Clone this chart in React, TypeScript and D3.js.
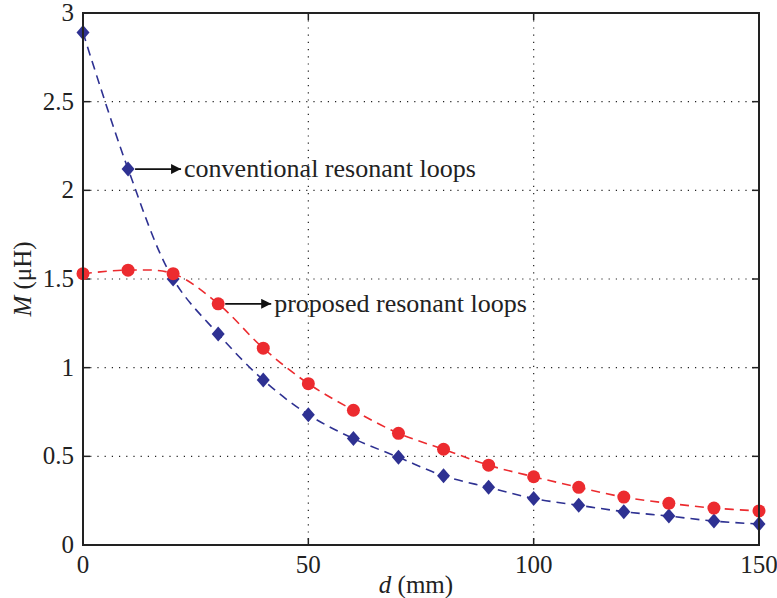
import * as d3 from "d3";
import { useEffect, useRef } from "react";

const distances = [0, 10, 20, 30, 40, 50, 60, 70, 80, 90, 100, 110, 120, 130, 140, 150];
const conventional = [2.89, 2.12, 1.5, 1.19, 0.93, 0.735, 0.6, 0.495, 0.39, 0.325, 0.262, 0.224, 0.188, 0.163, 0.135, 0.118];
const proposed = [1.53, 1.55, 1.53, 1.36, 1.11, 0.91, 0.76, 0.63, 0.54, 0.45, 0.385, 0.325, 0.27, 0.235, 0.208, 0.192];
const xTicks = [0, 50, 100, 150];
const yTicks = [0, 0.5, 1, 1.5, 2, 2.5, 3];

const W = 777;
const H = 598;
const margin = { top: 13, right: 18, bottom: 53, left: 83 };
const FONT = "'Liberation Serif', serif";
const BLUE = "#2e3192";
const RED = "#ec2b2f";

const App = () => {
  const ref = useRef<SVGSVGElement>(null);

  useEffect(() => {
    const svg = d3.select(ref.current);
    svg.selectAll("*").remove();

    const iw = W - margin.left - margin.right;
    const ih = H - margin.top - margin.bottom;

    const x = d3.scaleLinear().domain([0, 150]).range([0, iw]);
    const y = d3.scaleLinear().domain([0, 3]).range([ih, 0]);

    const defs = svg.append("defs");
    defs.append("marker")
      .attr("id", "arrow")
      .attr("viewBox", "0 0 10 10")
      .attr("refX", 10)
      .attr("refY", 5)
      .attr("markerWidth", 12)
      .attr("markerHeight", 10)
      .attr("markerUnits", "userSpaceOnUse")
      .attr("orient", "auto")
      .append("path")
      .attr("d", "M0,0 L10,5 L0,10 Z")
      .attr("fill", "#111");

    const g = svg.append("g")
      .attr("transform", `translate(${margin.left},${margin.top})`);

    // grid
    g.selectAll(".gx")
      .data(xTicks.slice(1, -1))
      .enter()
      .append("line")
      .attr("x1", d => x(d))
      .attr("x2", d => x(d))
      .attr("y1", 0)
      .attr("y2", ih)
      .attr("stroke", "#222")
      .attr("stroke-width", 1.2)
      .attr("stroke-dasharray", "1.2,6");

    g.selectAll(".gy")
      .data(yTicks.slice(1, -1))
      .enter()
      .append("line")
      .attr("x1", 0)
      .attr("x2", iw)
      .attr("y1", d => y(d))
      .attr("y2", d => y(d))
      .attr("stroke", "#222")
      .attr("stroke-width", 1.2)
      .attr("stroke-dasharray", "1.2,6");

    // inward ticks on all sides
    const tl = 7;
    xTicks.forEach(t => {
      g.append("line").attr("x1", x(t)).attr("x2", x(t)).attr("y1", ih).attr("y2", ih - tl).attr("stroke", "#222").attr("stroke-width", 1.5);
      g.append("line").attr("x1", x(t)).attr("x2", x(t)).attr("y1", 0).attr("y2", tl).attr("stroke", "#222").attr("stroke-width", 1.5);
    });
    yTicks.forEach(t => {
      g.append("line").attr("x1", 0).attr("x2", tl).attr("y1", y(t)).attr("y2", y(t)).attr("stroke", "#222").attr("stroke-width", 1.5);
      g.append("line").attr("x1", iw).attr("x2", iw - tl).attr("y1", y(t)).attr("y2", y(t)).attr("stroke", "#222").attr("stroke-width", 1.5);
    });

    // tick labels
    g.selectAll(".xl")
      .data(xTicks)
      .enter()
      .append("text")
      .attr("x", d => x(d))
      .attr("y", ih + 28)
      .attr("text-anchor", "middle")
      .attr("font-family", FONT)
      .attr("font-size", 25)
      .attr("fill", "#222")
      .text(d => d);

    g.selectAll(".yl")
      .data(yTicks)
      .enter()
      .append("text")
      .attr("x", -9)
      .attr("y", d => y(d) + 8)
      .attr("text-anchor", "end")
      .attr("font-family", FONT)
      .attr("font-size", 25)
      .attr("fill", "#222")
      .text(d => d);

    // axis titles
    const xt = g.append("text")
      .attr("x", iw / 2 - 5)
      .attr("y", ih + 48)
      .attr("text-anchor", "middle")
      .attr("font-family", FONT)
      .attr("font-size", 25)
      .attr("fill", "#222");
    xt.append("tspan").attr("font-style", "italic").text("d");
    xt.append("tspan").text(" (mm)");

    const yt = g.append("text")
      .attr("transform", `translate(-52,${ih / 2}) rotate(-90)`)
      .attr("text-anchor", "middle")
      .attr("font-family", FONT)
      .attr("font-size", 25)
      .attr("fill", "#222");
    yt.append("tspan").attr("font-style", "italic").text("M");
    yt.append("tspan").text(" (μH)");

    // curves
    const line = d3.line<number>()
      .x((_, i) => x(distances[i]))
      .y(d => y(d))
      .curve(d3.curveCatmullRom.alpha(0.5));

    g.append("path")
      .attr("d", line(conventional))
      .attr("fill", "none")
      .attr("stroke", BLUE)
      .attr("stroke-width", 1.6)
      .attr("stroke-dasharray", "9,6");

    g.append("path")
      .attr("d", line(proposed))
      .attr("fill", "none")
      .attr("stroke", RED)
      .attr("stroke-width", 1.6)
      .attr("stroke-dasharray", "9,6");

    // markers
    g.selectAll(".dia")
      .data(conventional)
      .enter()
      .append("path")
      .attr("d", "M0,-7.5 L6.5,0 L0,7.5 L-6.5,0 Z")
      .attr("transform", (d, i) => `translate(${x(distances[i])},${y(d)})`)
      .attr("fill", BLUE);

    g.selectAll(".cir")
      .data(proposed)
      .enter()
      .append("circle")
      .attr("cx", (_, i) => x(distances[i]))
      .attr("cy", d => y(d))
      .attr("r", 6.5)
      .attr("fill", RED);

    // frame
    g.append("rect")
      .attr("width", iw)
      .attr("height", ih)
      .attr("fill", "none")
      .attr("stroke", "#222")
      .attr("stroke-width", 2);

    // annotations
    const annotate = (xi: number, val: number, label: string) => {
      const px = x(distances[xi]);
      const py = y(val);
      g.append("line")
        .attr("x1", px + 7)
        .attr("x2", px + 53)
        .attr("y1", py)
        .attr("y2", py)
        .attr("stroke", "#111")
        .attr("stroke-width", 1.8)
        .attr("marker-end", "url(#arrow)");
      g.append("text")
        .attr("x", px + 56)
        .attr("y", py + 8)
        .attr("font-family", FONT)
        .attr("font-size", 26)
        .attr("fill", "#222")
        .text(label);
    };
    annotate(1, conventional[1], "conventional resonant loops");
    annotate(3, proposed[3], "proposed resonant loops");
  }, []);

  return <svg ref={ref} width={W} height={H} style={{ position: "absolute", left: 0, top: 0 }} />;
};

export default App;
